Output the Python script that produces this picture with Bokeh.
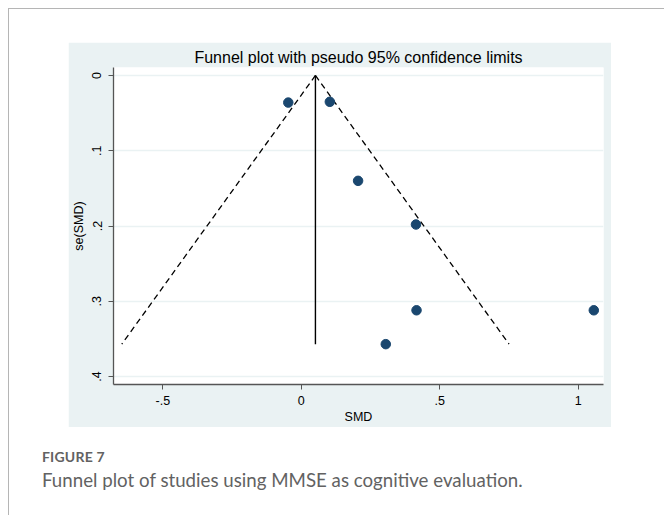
from bokeh.plotting import figure
from bokeh.models import FixedTicker, Range1d, Div, Title
from bokeh.layouts import column
from bokeh.embed import file_html
from bokeh.resources import INLINE

# Study effect sizes (SMD) and standard errors
smd = [-0.047, 0.103, 0.205, 0.414, 0.416, 0.305, 1.056]
se_smd = [0.036, 0.035, 0.140, 0.198, 0.312, 0.357, 0.312]

# Pooled estimate line and pseudo 95% confidence limits
pooled_x = [0.051, 0.051]
pooled_se = [0.0, 0.357]
lower_x = [0.051, -0.648]
upper_x = [0.051, 0.750]
limit_se = [0.0, 0.357]

x_ticks = [-0.5, 0, 0.5, 1]
x_tick_labels = ["-.5", "0", ".5", "1"]
y_ticks = [0, 0.1, 0.2, 0.3, 0.4]
y_tick_labels = ["0", ".1", ".2", ".3", ".4"]

title_text = "Funnel plot with pseudo 95% confidence limits"
fig_label = "FIGURE 7"
caption_text = "Funnel plot of studies using MMSE as cognitive evaluation."

PANEL = "#eaf2f3"
MARK = "#1a476f"
FONT = "Liberation Sans"

p = figure(width=543, height=385, output_backend="svg", toolbar_location=None,
           x_range=Range1d(-0.678, 1.091), y_range=Range1d(0.4106, -0.0106),
           min_border_left=42, min_border_right=8, min_border_top=25,
           min_border_bottom=43, margin=(33, 0, 0, 59))
p.border_fill_color = PANEL
p.background_fill_color = "white"
p.outline_line_color = None

t = Title(text=title_text, align="center", text_font=FONT,
          text_font_size="16px", text_font_style="normal",
          text_color="black", standoff=3, offset=0)
p.add_layout(t, "above")

p.xgrid.visible = False
p.ygrid.ticker = FixedTicker(ticks=y_ticks)
p.ygrid.grid_line_color = PANEL
p.ygrid.grid_line_width = 1.5

for ax in (p.xaxis[0], p.yaxis[0]):
    ax.axis_line_color = "#555555"
    ax.axis_line_width = 1.3
    ax.major_tick_line_color = "#555555"
    ax.major_tick_out = 5
    ax.major_tick_in = 0
    ax.minor_tick_line_color = None
    ax.major_label_text_font = FONT
    ax.major_label_text_font_size = "12.5px"
    ax.major_label_text_color = "black"
    ax.axis_label_text_font = FONT
    ax.axis_label_text_font_size = "12.5px"
    ax.axis_label_text_font_style = "normal"
    ax.axis_label_text_color = "black"

p.xaxis.ticker = FixedTicker(ticks=x_ticks)
p.xaxis.major_label_overrides = dict(zip(x_ticks, x_tick_labels))
p.xaxis.axis_label = "SMD"
p.xaxis.major_label_standoff = 6
p.xaxis.axis_label_standoff = 2

p.yaxis.ticker = FixedTicker(ticks=y_ticks)
p.yaxis.major_label_overrides = dict(zip(y_ticks, y_tick_labels))
p.yaxis.major_label_orientation = "vertical"
p.yaxis.axis_label = "se(SMD)"
p.yaxis.major_label_standoff = 7
p.yaxis.axis_label_standoff = 4

p.line(lower_x, limit_se, line_color="black", line_width=1.3, line_dash="6 4")
p.line(upper_x, limit_se, line_color="black", line_width=1.3, line_dash="6 4")
p.line(pooled_x, pooled_se, line_color="black", line_width=1.4)
p.scatter(smd, se_smd, size=9.5, fill_color=MARK, line_color=MARK)

cap = Div(text=(
    '<div style="font-family:Lato,sans-serif;font-weight:bold;font-size:14px;'
    'line-height:20px;color:#626262;letter-spacing:0.2px;">' + fig_label + '</div>'
    '<div style="font-family:Lato,sans-serif;font-size:18.7px;line-height:24px;'
    'color:#626262;margin-top:1px;white-space:nowrap;">' + caption_text + '</div>'),
    width=610, height=46, margin=(20, 0, 0, 33))

root = column(p, cap, width=656, height=507, margin=(8, 0, 0, 8),
              styles={"border-left": "1px solid #b5b5b5",
                      "border-top": "1px solid #b5b5b5",
                      "background-color": "white"})

open("out.html", "w").write(file_html(root, INLINE))
